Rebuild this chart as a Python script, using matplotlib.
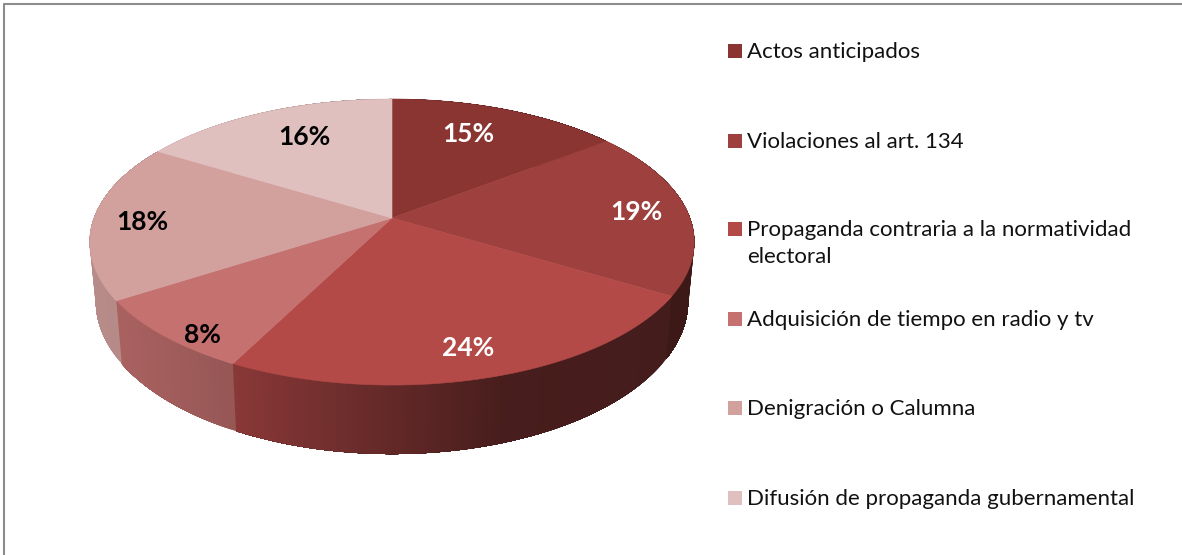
import matplotlib
matplotlib.use('Agg')
import matplotlib.pyplot as plt
import numpy as np
from matplotlib.colors import to_rgb
from matplotlib.patches import Polygon, Rectangle

categories = ['Actos anticipados', 'Violaciones al art. 134',
              'Propaganda contraria a la normatividad\nelectoral',
              'Adquisición de tiempo en radio y tv',
              'Denigración o Calumna',
              'Difusión de propaganda gubernamental']
values = [14.6, 19.0, 23.9, 8.4, 17.8, 16.3]
colors = ['#8B3533', '#9E403D', '#B34A48', '#C4716F', '#D2A09D', '#E0BFBF']
label_colors = ['white', 'white', 'white', 'black', 'black', 'black']
label_x = [468, 636, 468, 202, 142, 304]
label_y = [134, 212, 348, 335, 222, 137]
legend_y = [51, 141, 229, 319, 408, 498]

# pie geometry, in pixels: the tilted disc is a perspective view of a circle
CX, CY = 392, 218
A, B, K = 298, 139, 0.168
DEPTH = 57.4
FONT = 'Lato'


def project(t):
  u = np.sin(t)
  v = np.cos(t)
  w = 1 + K * v
  return CX + A * u / w, CY - B * v / w, w


def wall(t):
  x, y, w = project(t)
  return CX + (x - CX) * 0.98, y + DEPTH / w


def shade(x):
  # side wall gets darker going right
  return np.interp(x - CX, [-300, -270, -155, 0, 110, 300],
                   [0.87, 0.86, 0.76, 0.55, 0.40, 0.38])


fig = plt.figure(figsize=(11.82, 5.55), dpi=100)
ax = fig.add_axes([0, 0, 1, 1])
ax.set_xlim(0, 1182)
ax.set_ylim(555, 0)
ax.axis('off')

# frame, only top and left are visible in the crop
ax.plot([4, 4, 1182], [555, 4, 4], color='#8c8c8c', lw=1.5)

edges = np.cumsum([0] + values) / sum(values) * 2 * np.pi

# side wall first, the top covers the far part
# every strip runs to the end of its slice so no seams show between strips
for i in range(len(values)):
  ts = np.linspace(edges[i], edges[i + 1], int(values[i] * 4) + 2)
  for j in range(len(ts) - 1):
    rest = ts[j:]
    xs, ys, _ = project(rest)
    bx, by = wall(rest)
    pts = list(zip(xs, ys)) + list(zip(bx[::-1], by[::-1]))
    c = np.array(to_rgb(colors[i])) * shade((xs[0] + xs[1]) / 2)
    ax.add_patch(Polygon(pts, closed=True, facecolor=c, edgecolor='none'))

# top face
for i in range(len(values)):
  ts = np.linspace(edges[i], edges[i + 1], 120)
  xs, ys, _ = project(ts)
  pts = [(CX, CY)] + list(zip(xs, ys))
  ax.add_patch(Polygon(pts, closed=True, facecolor=colors[i], edgecolor=colors[i], lw=0.4))
  ax.text(label_x[i], label_y[i], str(round(values[i])) + '%', color=label_colors[i], fontsize=19,
          fontweight='bold', family=FONT, ha='center', va='center')

# legend
for i in range(len(categories)):
  ax.add_patch(Rectangle((728, legend_y[i] - 7), 13.5, 14, facecolor=colors[i], edgecolor='none'))
  ax.text(747, legend_y[i] - 9, categories[i], color='#111111', fontsize=16, family=FONT,
          ha='left', va='top', linespacing=1.46)

fig.savefig('out.png', dpi=100, facecolor='white')
